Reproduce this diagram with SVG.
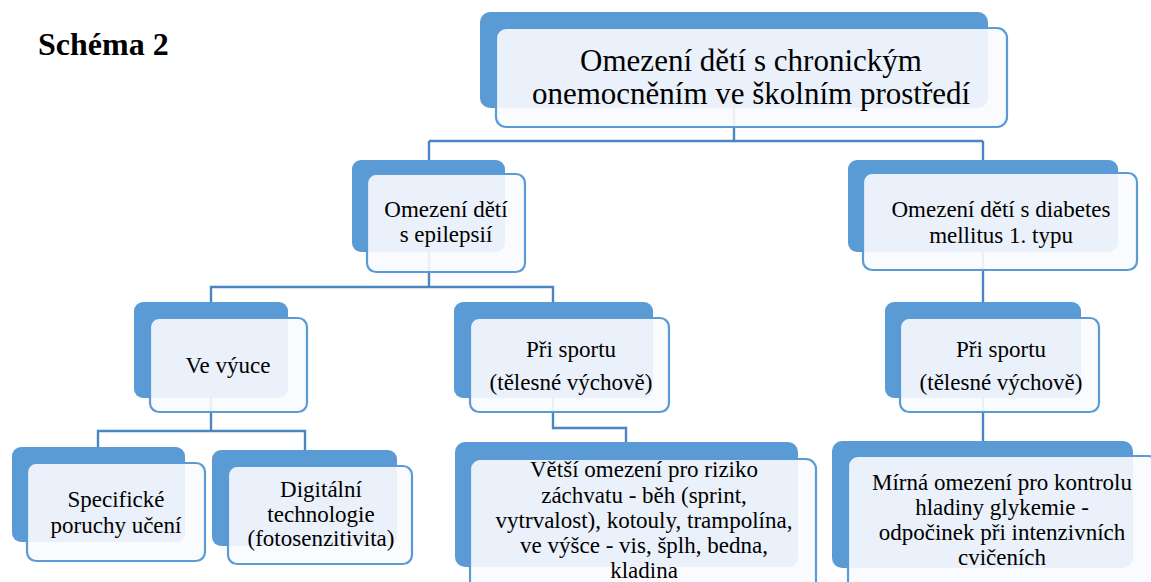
<svg xmlns="http://www.w3.org/2000/svg" width="1151" height="582" viewBox="0 0 1151 582">
<style>
.bk{fill:#5B9BD5;}
.fr{fill:#FAFBFE;fill-opacity:0.9;stroke:#5B9BD5;stroke-width:2.2;}
.cn{fill:none;stroke:#4A86C2;stroke-width:2.4;}
text{font-family:"Liberation Serif","Times New Roman",serif;fill:#000;text-anchor:middle;}
.t1{font-size:31px;}
.t2{font-size:23px;}
</style>
<rect width="1151" height="582" fill="#fff"/>
<text x="38" y="55" style="font-size:32px;font-weight:bold;text-anchor:start">Schéma 2</text>
<g id="connectors">
<path class="cn" d="M734,108 V141 M429,141 H983 M429,141 V160 M983,141 V160"/>
<path class="cn" d="M429,252 V287 H553 V302 M429,287 H211 V302"/>
<path class="cn" d="M983,252 V302"/>
<path class="cn" d="M211,398 V431 H98 V447 M211,431 H305 V450"/>
<path class="cn" d="M553,398 V428 H626 V442"/>
<path class="cn" d="M983,398 V441"/>
</g>
<g id="n-main">
<rect class="bk" x="480" y="12" width="508" height="96" rx="10"/>
<rect class="fr" x="496" y="28" width="511" height="99" rx="10"/>
<text class="t1" x="751" y="71">Omezení dětí s chronickým</text>
<text class="t1" x="751" y="104">onemocněním ve školním prostředí</text>
</g>
<g id="n-epi">
<rect class="bk" x="352" y="160" width="153" height="92" rx="9"/>
<rect class="fr" x="367" y="174" width="158" height="98" rx="9"/>
<text class="t2" x="446" y="217">Omezení dětí</text>
<text class="t2" x="446" y="242">s epilepsií</text>
</g>
<g id="n-diab">
<rect class="bk" x="848" y="160" width="270" height="92" rx="9"/>
<rect class="fr" x="863" y="173" width="274" height="97" rx="9"/>
<text class="t2" x="1001" y="217">Omezení dětí s diabetes</text>
<text class="t2" x="1001" y="243">mellitus 1. typu</text>
</g>
<g id="n-vyuka">
<rect class="bk" x="134" y="302" width="154" height="96" rx="9"/>
<rect class="fr" x="150" y="318" width="157" height="94" rx="9"/>
<text class="t2" x="228" y="373">Ve výuce</text>
</g>
<g id="n-sport-epi">
<rect class="bk" x="454" y="302" width="199" height="96" rx="9"/>
<rect class="fr" x="470" y="318" width="199" height="94" rx="9"/>
<text class="t2" x="571" y="357">Při sportu</text>
<text class="t2" x="571" y="390">(tělesné výchově)</text>
</g>
<g id="n-sport-diab">
<rect class="bk" x="885" y="302" width="196" height="96" rx="9"/>
<rect class="fr" x="900" y="318" width="199" height="94" rx="9"/>
<text class="t2" x="1001" y="357">Při sportu</text>
<text class="t2" x="1001" y="390">(tělesné výchově)</text>
</g>
<g id="n-spu">
<rect class="bk" x="12" y="447" width="173" height="95" rx="9"/>
<rect class="fr" x="27" y="463" width="178" height="98" rx="9"/>
<text class="t2" x="116" y="507">Specifické</text>
<text class="t2" x="116" y="533">poruchy učení</text>
</g>
<g id="n-digi">
<rect class="bk" x="212" y="450" width="185" height="96" rx="9"/>
<rect class="fr" x="228" y="466" width="184" height="98" rx="9"/>
<text class="t2" x="321" y="497">Digitální</text>
<text class="t2" x="321" y="522">technologie</text>
<text class="t2" x="321" y="546">(fotosenzitivita)</text>
</g>
<g id="n-vetsi">
<rect class="bk" x="455" y="442" width="343" height="125" rx="10"/>
<rect class="fr" x="470" y="459" width="346" height="140" rx="10"/>
<text class="t2" x="644" y="477">Větší omezení pro riziko</text>
<text class="t2" x="644" y="503">záchvatu - běh (sprint,</text>
<text class="t2" x="644" y="528">vytrvalost), kotouly, trampolína,</text>
<text class="t2" x="644" y="553">ve výšce - vis, šplh, bedna,</text>
<text class="t2" x="644" y="578">kladina</text>
</g>
<g id="n-mirna">
<rect class="bk" x="832" y="441" width="301" height="127" rx="10"/>
<rect class="fr" x="848" y="456" width="310" height="140" rx="10"/>
<text class="t2" x="1002" y="490">Mírná omezení pro kontrolu</text>
<text class="t2" x="1002" y="515">hladiny glykemie -</text>
<text class="t2" x="1002" y="540">odpočinek při intenzivních</text>
<text class="t2" x="1002" y="565">cvičeních</text>
</g>
</svg>
